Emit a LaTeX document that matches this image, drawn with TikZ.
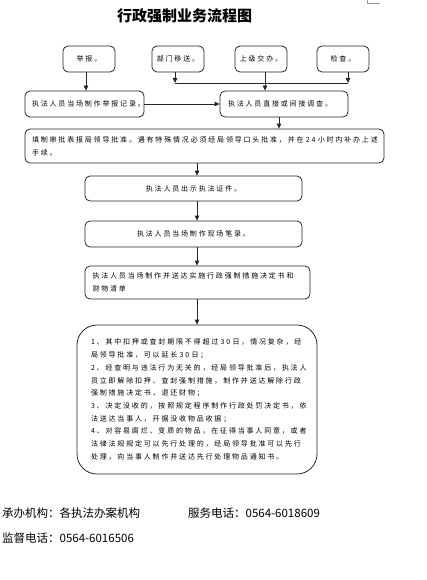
\documentclass[tikz,border=0pt]{standalone}
\usepackage{fontspec}
\usetikzlibrary{arrows.meta}
\newfontfamily\cjk{Noto Sans CJK SC}
\newfontfamily\cjksp[LetterSpace=26]{Noto Sans CJK SC}
\tikzset{
  box/.style={draw=black!85, line width=0.8pt, rounded corners=5pt, inner sep=0pt,
    font=\cjksp\fontsize{7}{12.7}\selectfont},
  lbox/.style={box, align=left},
  arr/.style={draw=black!85, line width=0.8pt, -{Triangle[length=5pt,width=4.5pt]}},
  ln/.style={draw=black!85, line width=0.8pt},
  foot/.style={anchor=west, inner sep=0pt, font=\cjk\fontsize{11.5}{12}\selectfont}
}
\begin{document}
\begin{tikzpicture}[x=1pt,y=-1pt]
\useasboundingbox (0,0) rectangle (426,580);
\draw[black!40, line width=0.6pt] (367,0) -- (367,3.5) -- (380,3.5);
\node[inner sep=0pt, font=\cjk\bfseries\fontsize{15}{16}\selectfont] (title) at (184.5,16) {行政强制业务流程图};
% top sources
\node[box, minimum width=52pt, minimum height=26pt] (jb) at (89,59) {举报。};
\node[box, minimum width=52pt, minimum height=26pt] (ym) at (178,59) {部门移送。};
\node[box, minimum width=52pt, minimum height=26pt] (sj) at (261,59) {上级交办。};
\node[box, minimum width=52pt, minimum height=26pt] (jc) at (343,59) {检查。};
% second row
\node[lbox, minimum width=119pt, minimum height=26pt, text width=105pt] (jl) at (84.5,104) {\mbox{执法人员当场制作举报记录。}};
\node[lbox, minimum width=128pt, minimum height=26pt, text width=112pt] (dc) at (284,104) {\mbox{执法人员直接或间接调查。}};
% approval
\node[lbox, minimum width=359pt, minimum height=34pt, text width=345pt] (sp) at (204.5,146) {\mbox{填制审批表报局领导批准。遇有特殊情况必须经局领导口头批准，并在 24 小时内补办上述}\\手续。};
\node[box, minimum width=217pt, minimum height=25pt] (cs) at (193.5,188.5) {执法人员出示执法证件。};
\node[box, minimum width=217pt, minimum height=26pt] (bl) at (193.5,234) {执法人员当场制作现场笔录。};
\node[lbox, minimum width=225pt, minimum height=33pt, text width=210pt] (jd) at (197.5,282.5) {\mbox{执法人员当场制作并送达实施行政强制措施决定书和}\\财物清单};
\node[lbox, rounded corners=20pt, minimum width=240pt, minimum height=149pt, text width=212pt] (big) at (197,399.5) {\mbox{1、其中扣押或查封期限不得超过 30 日，情况复杂，经}\\局领导批准，可以延长 30 日；\\\mbox{2、经查明与违法行为无关的，经局领导批准后，执法人}\\\mbox{员立即解除扣押、查封强制措施，制作并送达解除行政}\\强制措施决定书，退还财物；\\\mbox{3、决定没收的，按照规定程序制作行政处罚决定书，依}\\法送达当事人，开据没收物品收据；\\\mbox{4、对容易腐烂、变质的物品，在征得当事人同意，或者}\\\mbox{法律法规规定可以先行处理的，经局领导批准可以先行}\\处理，向当事人制作并送达先行处理物品通知书。};
% connectors
\coordinate (hl) at (175,83);
\coordinate (hr) at (348,83);
\coordinate (colx) at (197,0);
\draw[arr] ([xshift=-3pt]jb.south) -- ([xshift=-3pt]jb.south |- jl.north);
\draw[arr] (ym.south -| hl) -- (hl);
\draw[arr] (jc.south -| hr) -- (hr);
\draw[ln] (hl) -- (hr);
\draw[arr] ([xshift=4pt]sj.south) -- ([xshift=4pt]sj.south |- dc.north);
\draw[arr] (jl.east) -- (dc.west);
\draw[arr] ([xshift=-5pt]dc.south) -- ([xshift=-5pt]dc.south |- sp.north);
\draw[arr] (sp.south -| colx) -- (cs.north -| colx);
\draw[arr] (cs.south -| colx) -- (bl.north -| colx);
\draw[arr] (bl.south -| colx) -- (jd.north -| colx);
\draw[arr] (jd.south -| colx) -- (big.north -| colx);
% footer
\node[foot] (f1) at (2,513) {承办机构：各执法办案机构};
\node[foot] (f2) at (188,513) {服务电话：0564-6018609};
\node[foot] (f3) at (2,538) {监督电话：0564-6016506};
\end{tikzpicture}
\end{document}
